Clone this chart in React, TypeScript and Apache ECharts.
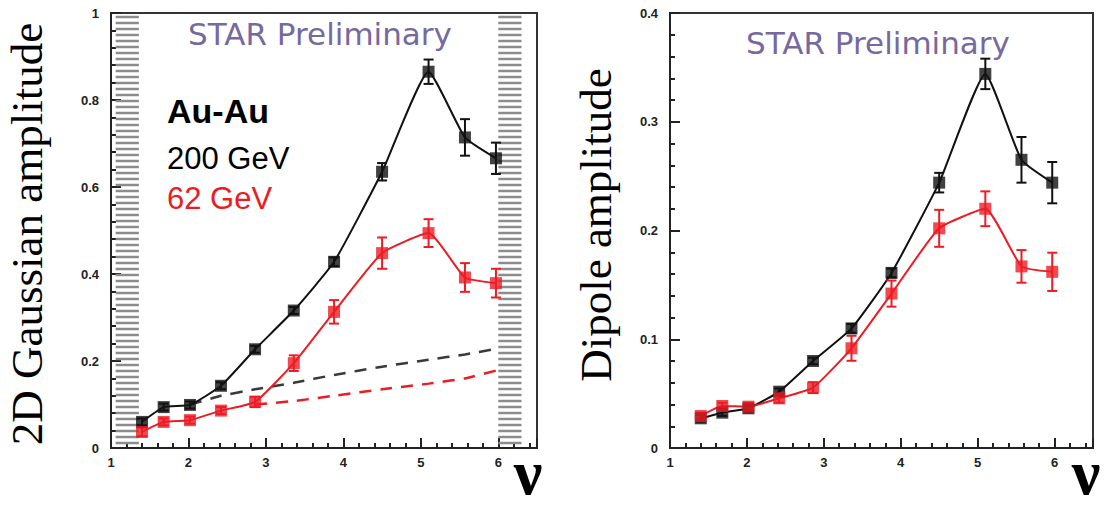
import React, { useEffect, useRef } from "react";
import * as echarts from "echarts";

// ν values (centrality bins), shared by both panels
const nu = [1.4, 1.68, 2.02, 2.42, 2.86, 3.36, 3.88, 4.5, 5.1, 5.57, 5.97];

// Left panel: 2D Gaussian amplitude
const gauss200 = [0.06, 0.094, 0.099, 0.143, 0.227, 0.316, 0.428, 0.635, 0.865, 0.714, 0.666];
const gauss200Err = [0.008, 0.008, 0.008, 0.008, 0.008, 0.008, 0.01, 0.02, 0.028, 0.042, 0.036];
const gauss62 = [0.037, 0.06, 0.064, 0.086, 0.106, 0.195, 0.313, 0.448, 0.494, 0.392, 0.379];
const gauss62Err = [0.01, 0.008, 0.008, 0.008, 0.012, 0.018, 0.027, 0.036, 0.032, 0.033, 0.033];

// Left panel: dashed reference curves
const refNu200 = [2.02, 2.42, 2.86, 3.36, 3.88, 4.5, 5.1, 5.57, 5.97];
const ref200 = [0.1, 0.12, 0.135, 0.15, 0.168, 0.187, 0.203, 0.215, 0.228];
const refNu62 = [2.86, 3.36, 3.88, 4.5, 5.1, 5.57, 5.97];
const ref62 = [0.1, 0.108, 0.12, 0.135, 0.148, 0.16, 0.178];

// Left panel: hatched (excluded) ν ranges
const hatchBands = [
  [1.06, 1.36],
  [6.0, 6.3],
];

// Right panel: dipole amplitude
const dipole200 = [0.0273, 0.0325, 0.0365, 0.0518, 0.08, 0.11, 0.161, 0.244, 0.344, 0.265, 0.244];
const dipole200Err = [0.003, 0.003, 0.003, 0.003, 0.003, 0.004, 0.004, 0.009, 0.014, 0.021, 0.019];
const dipole62 = [0.0294, 0.0386, 0.038, 0.0457, 0.0555, 0.0917, 0.142, 0.202, 0.22, 0.167, 0.162];
const dipole62Err = [0.003, 0.003, 0.003, 0.004, 0.005, 0.0115, 0.012, 0.017, 0.016, 0.015, 0.0176];

const xTicks = [1, 2, 3, 4, 5, 6];
const yTicksLeft = [0, 0.2, 0.4, 0.6, 0.8, 1];
const yTicksRight = [0, 0.1, 0.2, 0.3, 0.4];

const BLACK = "#111111";
const RED = "#ec1c24";

const pts = (xs: number[], ys: number[]) => xs.map((x, i) => [x, ys[i]]);
const errPts = (xs: number[], ys: number[], es: number[]) => xs.map((x, i) => [x, ys[i], es[i]]);

function errorRender(color: string) {
  return (params: any, api: any) => {
    const x = api.value(0);
    const v = api.value(1);
    const e = api.value(2);
    const top = api.coord([x, v + e]);
    const bot = api.coord([x, v - e]);
    const cw = 5;
    const st = { stroke: color, lineWidth: 2 };
    return {
      type: "group",
      children: [
        { type: "line", shape: { x1: top[0], y1: top[1], x2: bot[0], y2: bot[1] }, style: st },
        { type: "line", shape: { x1: top[0] - cw, y1: top[1], x2: top[0] + cw, y2: top[1] }, style: st },
        { type: "line", shape: { x1: bot[0] - cw, y1: bot[1], x2: bot[0] + cw, y2: bot[1] }, style: st },
      ],
    };
  };
}

function hatchRender(yMax: number) {
  return (params: any, api: any) => {
    const p0 = api.coord([api.value(0), yMax]);
    const p1 = api.coord([api.value(1), 0]);
    const children: any[] = [];
    for (let y = p0[1] + 4; y < p1[1]; y += 6) {
      children.push({
        type: "line",
        shape: { x1: p0[0], y1: y, x2: p1[0], y2: y },
        style: { stroke: "#8c8c8c", lineWidth: 2.5 },
      });
    }
    return { type: "group", children };
  };
}

const axisLabelStyle = {
  color: "#222",
  fontWeight: "bold" as const,
  fontSize: 13,
  fontFamily: "Liberation Sans, Arial, sans-serif",
};

function xAxisCfg(gridIndex: number) {
  return {
    type: "value",
    gridIndex,
    min: 1,
    max: 6.5,
    interval: 1,
    axisLine: { show: true, lineStyle: { color: "#222", width: 2 } },
    axisTick: { show: true, inside: true, length: 10, lineStyle: { color: "#222", width: 2 } },
    minorTick: { show: true, splitNumber: 5, length: 5, lineStyle: { color: "#222", width: 2 } },
    splitLine: { show: false },
    minorSplitLine: { show: false },
    axisLabel: {
      ...axisLabelStyle,
      margin: 8,
      formatter: (v: number) => (xTicks.includes(v) ? String(v) : ""),
    },
  };
}

function yAxisCfg(gridIndex: number, max: number, interval: number, ticks: number[]) {
  return {
    type: "value",
    gridIndex,
    min: 0,
    max,
    interval,
    axisLine: { show: true, lineStyle: { color: "#222", width: 2 } },
    axisTick: { show: true, inside: true, length: 10, lineStyle: { color: "#222", width: 2 } },
    minorTick: { show: true, splitNumber: 5, length: 5, lineStyle: { color: "#222", width: 2 } },
    splitLine: { show: false },
    minorSplitLine: { show: false },
    axisLabel: {
      ...axisLabelStyle,
      margin: 12,
      formatter: (v: number) => {
        const t = ticks.find((k) => Math.abs(k - v) < 1e-9);
        return t === undefined ? "" : String(t);
      },
    },
  };
}

export default function App() {
  const ref = useRef<HTMLDivElement>(null);

  useEffect(() => {
    document.body.style.margin = "0";
    if (!ref.current) return;
    const chart = echarts.init(ref.current, undefined, { renderer: "svg" });

    const lineSeries = (xi: number, data: number[][], color: string, dashed = false, z = 3) => ({
      type: "line",
      xAxisIndex: xi,
      yAxisIndex: xi,
      data,
      smooth: dashed ? 0.1 : 0.15,
      showSymbol: false,
      symbol: "none",
      lineStyle: dashed
        ? { color, width: 2.5, type: [12, 9] }
        : { color, width: 2 },
      z,
      silent: true,
    });
    const markerSeries = (xi: number, data: number[][], color: string) => ({
      type: "scatter",
      xAxisIndex: xi,
      yAxisIndex: xi,
      data,
      symbol: "rect",
      symbolSize: 12,
      itemStyle: { color },
      z: 6,
      silent: true,
    });
    const errSeries = (xi: number, data: number[][], color: string) => ({
      type: "custom",
      xAxisIndex: xi,
      yAxisIndex: xi,
      data,
      renderItem: errorRender(color),
      encode: { x: 0, y: 1 },
      z: 5,
      silent: true,
    });

    const serif = "Liberation Serif, Times New Roman, serif";
    const sans = "Liberation Sans, Arial, sans-serif";

    chart.setOption({
      animation: false,
      backgroundColor: "#ffffff",
      grid: [
        { left: 111, top: 13, width: 426, height: 435, show: true, borderColor: "#333", borderWidth: 2 },
        { left: 670, top: 13, width: 423, height: 435, show: true, borderColor: "#333", borderWidth: 2 },
      ],
      xAxis: [xAxisCfg(0), xAxisCfg(1)],
      yAxis: [yAxisCfg(0, 1, 0.2, yTicksLeft), yAxisCfg(1, 0.4, 0.1, yTicksRight)],
      series: [
        {
          type: "custom",
          xAxisIndex: 0,
          yAxisIndex: 0,
          data: hatchBands,
          renderItem: hatchRender(1),
          encode: { x: [0, 1] },
          z: 1,
          silent: true,
        },
        lineSeries(0, pts(refNu200, ref200), "#3a3a3a", true, 2),
        lineSeries(0, pts(refNu62, ref62), RED, true, 2),
        lineSeries(0, pts(nu, gauss200), BLACK),
        lineSeries(0, pts(nu, gauss62), RED),
        errSeries(0, errPts(nu, gauss200, gauss200Err), BLACK),
        errSeries(0, errPts(nu, gauss62, gauss62Err), RED),
        markerSeries(0, pts(nu, gauss200), BLACK),
        markerSeries(0, pts(nu, gauss62), RED),
        lineSeries(1, pts(nu, dipole200), BLACK),
        lineSeries(1, pts(nu, dipole62), RED),
        errSeries(1, errPts(nu, dipole200, dipole200Err), BLACK),
        errSeries(1, errPts(nu, dipole62, dipole62Err), RED),
        markerSeries(1, pts(nu, dipole200), BLACK),
        markerSeries(1, pts(nu, dipole62), RED),
      ],
      graphic: [
        {
          type: "text",
          x: 27,
          y: 234,
          rotation: Math.PI / 2,
          style: { text: "2D Gaussian amplitude", font: `45px ${serif}`, fill: "#000", align: "center", verticalAlign: "middle" },
        },
        {
          type: "text",
          x: 596,
          y: 225,
          rotation: Math.PI / 2,
          style: { text: "Dipole amplitude", font: `45px ${serif}`, fill: "#000", align: "center", verticalAlign: "middle" },
        },
        {
          type: "text",
          x: 320,
          y: 34,
          style: { text: "STAR Preliminary", font: `31px DejaVu Sans, sans-serif`, fill: "#76699f", align: "center", verticalAlign: "middle" },
        },
        {
          type: "text",
          x: 878,
          y: 43,
          style: { text: "STAR Preliminary", font: `31px DejaVu Sans, sans-serif`, fill: "#76699f", align: "center", verticalAlign: "middle" },
        },
        {
          type: "text",
          x: 167,
          y: 111,
          style: { text: "Au-Au", font: `bold 34px ${sans}`, fill: "#000", align: "left", verticalAlign: "middle" },
        },
        {
          type: "text",
          x: 167,
          y: 158,
          style: { text: "200 GeV", font: `31px ${sans}`, fill: "#000", align: "left", verticalAlign: "middle" },
        },
        {
          type: "text",
          x: 167,
          y: 198,
          style: { text: "62 GeV", font: `31px ${sans}`, fill: RED, align: "left", verticalAlign: "middle" },
        },
        {
          type: "text",
          x: 528,
          y: 472,
          style: { text: "ν", font: `bold 64px ${serif}`, fill: "#000", align: "center", verticalAlign: "middle" },
        },
        {
          type: "text",
          x: 1086,
          y: 472,
          style: { text: "ν", font: `bold 64px ${serif}`, fill: "#000", align: "center", verticalAlign: "middle" },
        },
      ],
    });

    return () => chart.dispose();
  }, []);

  return <div ref={ref} style={{ width: 1107, height: 506 }} />;
}
